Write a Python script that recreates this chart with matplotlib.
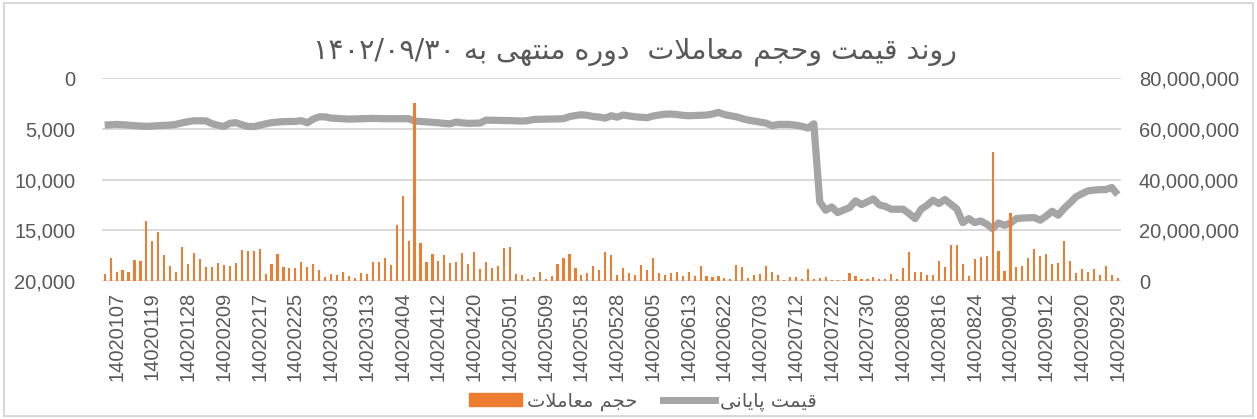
import re
import matplotlib
matplotlib.use("Agg")
import matplotlib.pyplot as plt
from matplotlib.patches import Patch, Rectangle
from matplotlib.lines import Line2D

# ---- data ----
title_text = "روند قیمت وحجم معاملات  دوره منتهی به ۱۴۰۲/۰۹/۳۰"
volume_label = "حجم معاملات"
price_label = "قیمت پایانی"

date_labels = ["14020107", "14020119", "14020128", "14020209", "14020217", "14020225",
               "14020303", "14020313", "14020404", "14020412", "14020420", "14020501",
               "14020509", "14020518", "14020528", "14020605", "14020613", "14020622",
               "14020703", "14020712", "14020722", "14020730", "14020808", "14020816",
               "14020824", "14020904", "14020912", "14020920", "14020929"]

# trading volume, millions of shares
volume_m = [2.6, 8.9, 3.6, 4.2, 3.6, 8.1, 7.9, 23.6, 15.8, 19.3, 10.2, 6.1, 3.4, 13.5,
            6.8, 11.1, 8.6, 5.6, 5.6, 7.2, 6.5, 6.0, 7.2, 12.2, 11.9, 11.9, 12.8, 2.8,
            6.6, 10.5, 5.7, 5.3, 5.2, 7.4, 5.6, 6.8, 4.2, 1.6, 2.6, 2.4, 3.4, 2.1, 1.3,
            3.2, 2.9, 7.4, 7.5, 8.9, 6.4, 22.1, 33.4, 15.9, 70.0, 14.8, 7.5, 10.5, 7.8,
            10.2, 7.2, 7.5, 11.1, 6.6, 11.4, 4.9, 7.4, 5.0, 6.1, 13.1, 13.5, 2.8, 2.4,
            0.9, 1.5, 3.4, 0.7, 1.9, 6.8, 8.9, 10.6, 5.3, 2.3, 3.0, 6.1, 4.4, 11.3, 10.3,
            2.4, 5.0, 3.0, 2.4, 6.4, 4.2, 8.9, 3.2, 2.3, 3.2, 3.6, 1.9, 3.4, 2.0, 6.0,
            1.9, 1.6, 2.0, 1.1, 0.8, 6.2, 5.6, 1.2, 2.3, 2.6, 6.1, 3.6, 2.5,
            0.4, 1.6, 1.5, 0.9, 4.6, 0.8, 1.2, 1.6, 0.4, 0.4, 0.4, 3.3, 2.0, 0.7, 0.8,
            1.6, 0.8, 0.9, 2.6, 0.8, 5.3, 11.5, 3.6, 3.6, 2.5, 2.4, 7.9, 5.7, 14.3,
            14.3, 6.6, 2.0, 8.7, 9.4, 9.9, 50.7, 11.8, 3.8, 26.9, 5.7, 5.8, 8.9, 12.6,
            9.9, 10.6, 6.8, 7.2, 15.9, 7.9, 3.0, 4.8, 3.6, 4.8, 2.4, 6.1, 2.4, 1.2]

# closing price
price = [4640, 4600, 4570, 4600, 4650, 4700, 4740, 4770, 4740, 4700, 4660, 4640, 4560, 4420,
         4300, 4210, 4210, 4220, 4500, 4650, 4770, 4470, 4400, 4600, 4770, 4790, 4650, 4520,
         4400, 4340, 4300, 4290, 4280, 4200, 4410, 4050, 3820, 3830, 3950, 3980, 4000, 4050,
         4030, 4000, 3990, 3980, 4000, 4010, 4010, 4010, 4010, 4010, 4240, 4280, 4320, 4370,
         4410, 4480, 4510, 4340, 4420, 4470, 4460, 4440, 4150, 4160, 4170, 4180, 4200, 4220,
         4240, 4200, 4080, 4070, 4060, 4050, 4030, 4010, 3800, 3700, 3620, 3680, 3800, 3850,
         3950, 3720, 3860, 3650, 3740, 3820, 3860, 3910, 3750, 3650, 3570, 3550, 3600, 3680,
         3720, 3700, 3690, 3650, 3550, 3390, 3600, 3720, 3820, 4000, 4150, 4250, 4350, 4450,
         4700, 4570, 4570, 4570, 4650, 4760, 4930, 4510, 12200, 13030, 12700, 13260, 13000,
         12770, 12100, 12470, 12200, 11910, 12500, 12650, 12930, 12930, 12930, 13360, 13850,
         12930, 12540, 12040, 12370, 11970, 12440, 12900, 14250, 13850, 14250, 14080, 14400,
         14840, 14280, 14510, 14300, 13850, 13800, 13780, 13750, 14010, 13600, 13130, 13520,
         12860, 12300, 11710, 11400, 11120, 11050, 11000, 10990, 10790, 11500]

# ---- simple persian shaping (matplotlib has no bidi / joining) ----
FORMS = {
    'ا': ('\uFE8D', '\uFE8E', None, None),
    'ب': ('\uFE8F', '\uFE90', '\uFE91', '\uFE92'),
    'پ': ('\uFB56', '\uFB57', '\uFB58', '\uFB59'),
    'ت': ('\uFE95', '\uFE96', '\uFE97', '\uFE98'),
    'ج': ('\uFE9D', '\uFE9E', '\uFE9F', '\uFEA0'),
    'ح': ('\uFEA1', '\uFEA2', '\uFEA3', '\uFEA4'),
    'د': ('\uFEA9', '\uFEAA', None, None),
    'ر': ('\uFEAD', '\uFEAE', None, None),
    'ع': ('\uFEC9', '\uFECA', '\uFECB', '\uFECC'),
    'ق': ('\uFED5', '\uFED6', '\uFED7', '\uFED8'),
    'ل': ('\uFEDD', '\uFEDE', '\uFEDF', '\uFEE0'),
    'م': ('\uFEE1', '\uFEE2', '\uFEE3', '\uFEE4'),
    'ن': ('\uFEE5', '\uFEE6', '\uFEE7', '\uFEE8'),
    'ه': ('\uFEE9', '\uFEEA', '\uFEEB', '\uFEEC'),
    'و': ('\uFEED', '\uFEEE', None, None),
    'ی': ('\uFBFC', '\uFBFD', '\uFBFE', '\uFBFF'),
}


def shape(text):
    res = []
    prev_joins = False
    i = 0
    while i < len(text):
        c = text[i]
        if c not in FORMS:
            res.append(c)
            prev_joins = False
            i += 1
            continue
        if c == 'ل' and i + 1 < len(text) and text[i + 1] == 'ا':
            res.append('\uFEFC' if prev_joins else '\uFEFB')
            prev_joins = False
            i += 2
            continue
        next_joins = i + 1 < len(text) and text[i + 1] in FORMS
        iso, fin, ini, med = FORMS[c]
        if ini is not None:
            if prev_joins and next_joins:
                res.append(med)
            elif prev_joins:
                res.append(fin)
            elif next_joins:
                res.append(ini)
            else:
                res.append(iso)
            prev_joins = True
        else:
            res.append(fin if prev_joins else iso)
            prev_joins = False
        i += 1
    return ''.join(res)


def visual(text):
    s = shape(text)[::-1]
    return re.sub(r'[0-9۰-۹/]+', lambda m: m.group(0)[::-1], s)


GRAY_TEXT = '#595959'
GRID = '#D9D9D9'
ORANGE = '#ED7D31'
LINE_GRAY = '#A5A5A5'

W, H = 1257, 419
fig = plt.figure(figsize=(W / 100, H / 100), dpi=100)
left, right, top, bottom = 101.7, 1120.7, 78, 281
ax = fig.add_axes([left / W, 1 - bottom / H, (right - left) / W, (bottom - top) / H])
ax2 = ax.twinx()

x = list(range(len(price)))
ax.plot(x, price, color=LINE_GRAY, lw=5.2, solid_capstyle='butt', solid_joinstyle='round')
ax2.bar(range(len(volume_m)), [v * 1e6 for v in volume_m], width=0.36, color=ORANGE)

ax.set_xlim(-0.5, len(price) - 0.5)
ax.set_ylim(20000, 0)
ax2.set_ylim(0, 80e6)
ax.set_yticks([0, 5000, 10000, 15000, 20000])
ax.set_yticklabels(['0', '5,000', '10,000', '15,000', '20,000'])
ax2.set_yticks([0, 20e6, 40e6, 60e6, 80e6])
ax2.set_yticklabels(['0', '20,000,000', '40,000,000', '60,000,000', '80,000,000'])
ax.set_xticks(range(2, len(price), 6))
ax.set_xticklabels(date_labels, rotation=90)

ax.grid(axis='y', color=GRID, lw=1.4)
ax.set_axisbelow(True)
for a in (ax, ax2):
    for sp in a.spines.values():
        sp.set_visible(False)
ax.tick_params(axis='both', length=0, labelsize=14.5, labelcolor=GRAY_TEXT)
ax.tick_params(axis='y', pad=19)
ax.tick_params(axis='x', pad=8)
ax2.tick_params(axis='y', length=0, labelsize=14.5, labelcolor=GRAY_TEXT, pad=13)
for lab in ax.get_xticklabels() + ax.get_yticklabels() + ax2.get_yticklabels():
    lab.set_family('Liberation Sans')

fig.text(0.505, 1 - 52 / H, visual(title_text), ha='center', va='center',
         fontsize=20.5, color=GRAY_TEXT, family='DejaVu Sans')

handles = [Patch(color=ORANGE), Line2D([], [], color=LINE_GRAY, lw=5)]
fig.legend(handles, [visual(volume_label), visual(price_label)], loc='center',
           bbox_to_anchor=(643 / W, 1 - 401 / H), ncol=2, frameon=False,
           prop={'family': 'DejaVu Sans', 'size': 14}, labelcolor=GRAY_TEXT,
           handlelength=2.7, handleheight=0.65, handletextpad=0.25, columnspacing=1.3)

fig.patches.append(Rectangle((4 / W, 3 / H), 1 - 8 / W, 1 - 6 / H, transform=fig.transFigure,
                             fill=False, ec=GRID, lw=1.5))

fig.savefig('out.png', dpi=100)
